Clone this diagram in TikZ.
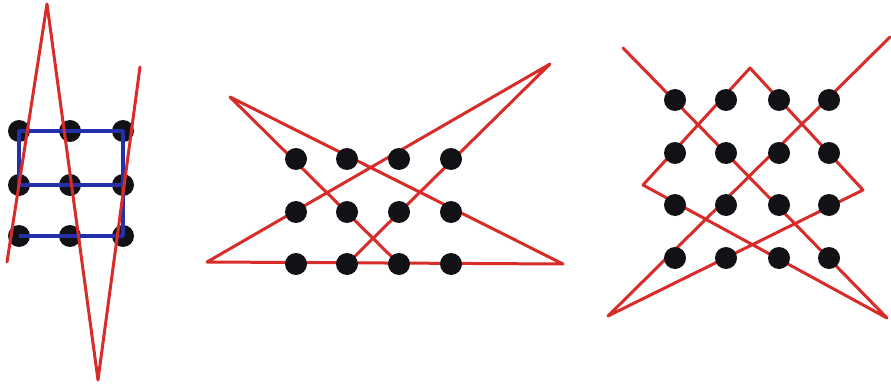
\documentclass[tikz,border=0pt]{standalone}
\usepackage{tikz}
\definecolor{PuzzleRed}{RGB}{216,44,42}
\definecolor{PuzzleBlue}{RGB}{36,48,168}
\definecolor{DotBlack}{RGB}{18,18,22}

\begin{document}
\begin{tikzpicture}[x=1pt, y=-1pt,
	spot/.style={circle,fill=DotBlack,minimum size=22pt,inner sep=0pt},
	redline/.style={draw=PuzzleRed,line width=3pt,line join=round,line cap=round},
	blueline/.style={draw=PuzzleBlue,line width=3.4pt,line join=round}]
\useasboundingbox (0,0) rectangle (891,385);
% 3x3 grid
\foreach \r/\y in {1/131,2/185,3/236}
	\foreach \c/\x in {1/19,2/70,3/123}
		\node[spot] (a\r\c) at (\x,\y) {};
\coordinate (a-start) at (7,262);
\coordinate (a-top) at (47,4);
\coordinate (a-bot) at (98,380);
\coordinate (a-end) at (140,67);
\draw[blueline] (a31.center) -- (a33.center) -- (a13.center) -- (a11.center)
	-- (a21.center) -- (a23.center);
\draw[redline] (a-start) -- (a-top) -- (a-bot) -- (a-end);
% 3x4 grid
\coordinate (b-tl) at (230,97);
\coordinate (b-tr) at (550,64);
\coordinate (b-bl) at (207,262);
\coordinate (b-br) at (563,264);
\draw[redline] (399,264) -- (b-tl) -- (b-br) -- (b-bl) -- (b-tr) -- (347,264);
\foreach \r/\y in {1/159,2/212,3/264}
	\foreach \c/\x in {1/296,2/347,3/399,4/451}
		\node[spot] (b\r\c) at (\x,\y) {};
% 4x4 grid
\coordinate (c-start) at (890,37);
\coordinate (c-bl) at (608,316);
\coordinate (c-right) at (863,190);
\coordinate (c-top) at (750,68);
\coordinate (c-left) at (643,185);
\coordinate (c-br) at (887,318);
\coordinate (c-end) at (623,48);
\draw[redline] (c-start) -- (c-bl) -- (c-right) -- (c-top) -- (c-left)
	-- (c-br) -- (c-end);
\foreach \r/\y in {1/100,2/153,3/205,4/258}
	\foreach \c/\x in {1/675,2/726,3/779,4/829}
		\node[spot] (c\r\c) at (\x,\y) {};
\end{tikzpicture}
\end{document}
